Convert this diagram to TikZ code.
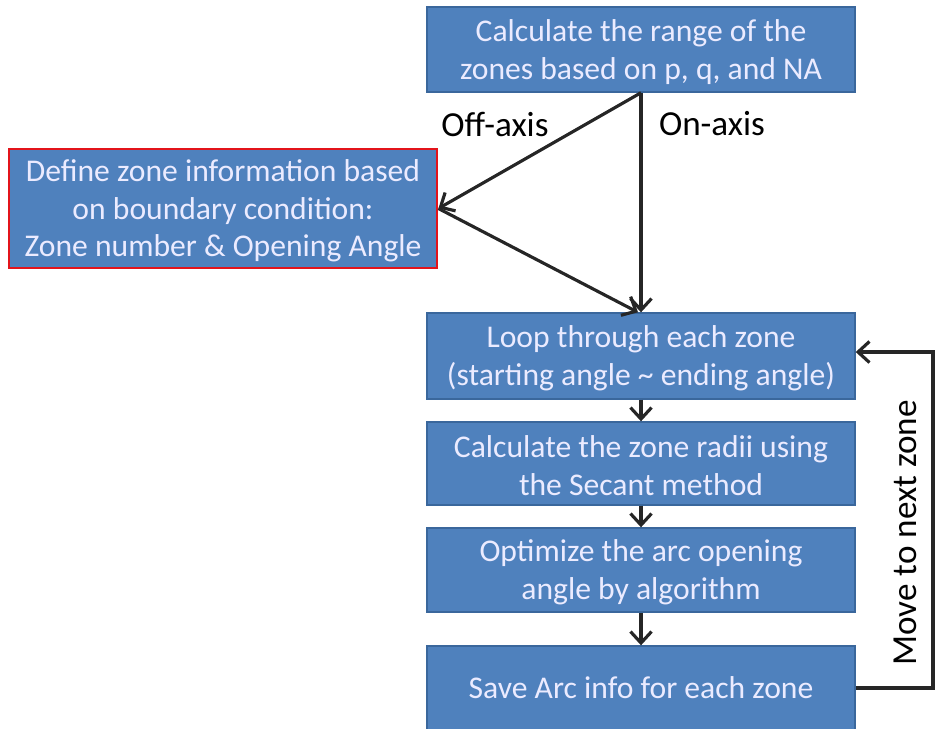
\documentclass[tikz,border=0pt]{standalone}
\usepackage{fontspec}
\setmainfont{Carlito}
\usetikzlibrary{arrows.meta, positioning}

\definecolor{boxblue}{HTML}{4F81BD}
\definecolor{boxedge}{HTML}{3A679C}
\definecolor{redge}{HTML}{E3141B}

\begin{document}
\begin{tikzpicture}[x=0.02cm, y=-0.02cm, >={Straight Barb[length=6.5pt, width=12pt]},
    flowbox/.style={draw=boxedge, line width=0.8pt, fill=boxblue, text=white!92!blue,
        minimum width=428*0.02cm, align=center, inner sep=0pt,
        font=\fontsize{18}{21.5}\selectfont},
    link/.style={->, line width=1.8pt, draw=black!85}]
    \useasboundingbox (0,0) rectangle (935,728);

    % --- boxes ---
    \node[flowbox, minimum height=85*0.02cm] (range) at (641,49.5)
        {\strut Calculate the range of the\\zones based on p, q, and NA};
    \node[flowbox, draw=redge, line width=1.6pt, minimum height=119*0.02cm] (zoneinfo) at (223,208.5)
        {\strut Define zone information based\\on boundary condition:\\Zone number \& Opening Angle};
    \node[flowbox, minimum height=86*0.02cm] (loop) at (641,356)
        {\strut Loop through each zone\\(starting angle \textasciitilde{} ending angle)};
    \node[flowbox, minimum height=83*0.02cm] (radii) at (641,463.5)
        {\strut Calculate the zone radii using\\the Secant method};
    \node[flowbox, minimum height=84*0.02cm] (optim) at (641,570)
        {\strut Optimize the arc opening\\angle by algorithm};
    \node[flowbox, minimum height=84*0.02cm] (save) at (641,688)
        {Save Arc info for each zone};

    % --- branch labels ---
    \node[font=\fontsize{20}{22}\selectfont] (offlbl) at (495,124) {Off-axis};
    \node[font=\fontsize{20}{22}\selectfont] (onlbl) at (712,124) {On-axis};

    % --- connectors ---
    \draw[link] (range.south) -- (zoneinfo.east);
    \draw[link] (range.south) -- (loop.north);
    \draw[link] (zoneinfo.east) -- ([xshift=-3*0.02cm]loop.north);
    \draw[link] (loop) -- (radii);
    \draw[link] (radii) -- (optim);
    \draw[link] (optim) -- (save);

    % --- back to the loop ---
    \coordinate (rbot) at (933,688);
    \coordinate (rtop) at (933,352);
    \draw[link] (save.east) -- (rbot) -- (rtop) -- (loop.east |- rtop);
    \node[rotate=90, font=\fontsize{20}{22}\selectfont] (nextlbl) at (905,533) {Move to next zone};
\end{tikzpicture}
\end{document}
